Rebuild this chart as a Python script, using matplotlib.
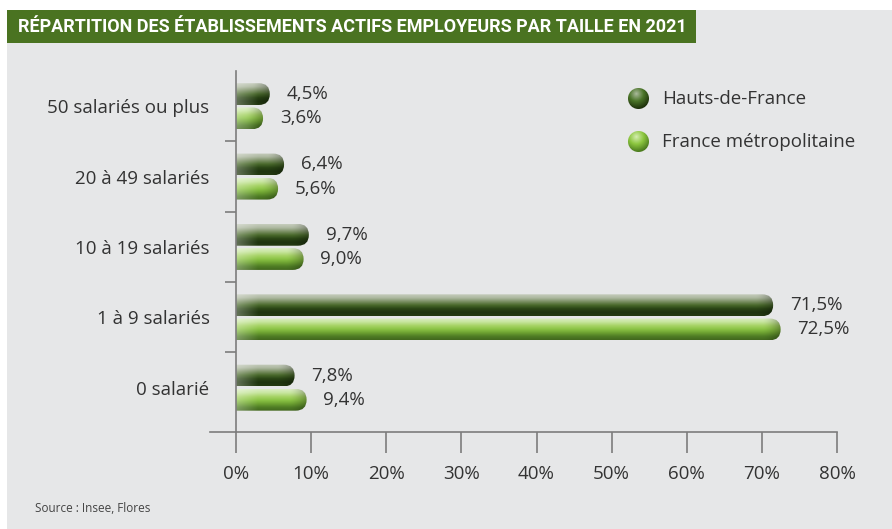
import numpy as np
import matplotlib
matplotlib.use("Agg")
import matplotlib.pyplot as plt
from matplotlib.patches import FancyBboxPatch, Rectangle
from matplotlib.colors import LinearSegmentedColormap

plt.rcParams['font.family'] = ['Open Sans', 'DejaVu Sans']

# data
categories = ["50 salariés ou plus", "20 à 49 salariés", "10 à 19 salariés",
              "1 à 9 salariés", "0 salarié"]
hdf = [4.5, 6.4, 9.7, 71.5, 7.8]
france = [3.6, 5.6, 9.0, 72.5, 9.4]
series_names = ["Hauts-de-France", "France métropolitaine"]
x_ticks = [0, 10, 20, 30, 40, 50, 60, 70, 80]

BG = "#e6e7e8"
TXT = "#333333"
AXC = "#7d7d7d"

hdf_stops = ["#c5ccbc", "#adb8a0", "#7c9065", "#4a6a2c", "#2a4515", "#1f3410", "#243a11"]
fr_stops = ["#dbedc3", "#c8e6a0", "#a8d468", "#8cc446", "#6ea332", "#4f7d25", "#42681e"]

fig = plt.figure(figsize=(8.92, 5.29), dpi=100)
fig.patch.set_facecolor("white")

# gray panel and title bar
fig.patches.append(Rectangle((7 / 892, 0), 1, 1 - 10 / 529, transform=fig.transFigure,
                             facecolor=BG, edgecolor="none", zorder=-2))
fig.patches.append(Rectangle((7 / 892, 1 - 43 / 529), (696 - 7) / 892, 33 / 529,
                             transform=fig.transFigure, facecolor="#4a7321",
                             edgecolor="none", zorder=-1))
fig.text(18 / 892, 1 - 27 / 529,
         "RÉPARTITION DES ÉTABLISSEMENTS ACTIFS EMPLOYEURS PAR TAILLE EN 2021",
         color="white", fontsize=13, fontweight="bold", va="center", ha="left",
         family=["Roboto", "DejaVu Sans"])

ax = fig.add_axes([236 / 892, 1 - 432 / 529, (837 - 236) / 892, (432 - 71) / 529])
ax.set_facecolor("none")
ax.set_zorder(3)

n = len(categories)
y = np.arange(n)
h = 0.31
off = 0.172
bottom_pad = 0.13
bars_h = ax.barh(y - off, hdf, height=h)
bars_f = ax.barh(y + off, france, height=h)

ax.set_xlim(0, 80)
ax.set_ylim(n - 0.5 + bottom_pad, -0.5)

# pixel sizes -> data units
px_x = 80 / (837 - 236)
px_y = (n + bottom_pad) / (432 - 71)
r = (h / 2) / px_y * px_x
asp = (h / 2) / r


def shade_bar(patch, stops):
    x0, y0 = patch.get_x(), patch.get_y()
    w, hh = patch.get_width(), patch.get_height()
    patch.set_visible(False)
    box = FancyBboxPatch((x0 - r, y0), w + r, hh,
                         boxstyle=f"round,pad=0,rounding_size={r}",
                         mutation_aspect=asp, facecolor="none", edgecolor="none")
    ax.add_patch(box)
    cmap = LinearSegmentedColormap.from_list("g", stops)
    ny, nx = 60, 300
    col = cmap(np.linspace(0, 1, ny))[:, :3]
    img = np.repeat(col[:, None, :], nx, axis=1)
    xs = np.linspace(x0, x0 + w, nx)
    # pale haze at left, darker cap at right
    left = np.clip(1 - (xs - x0) / (22 * px_x), 0, 1)[None, :, None]
    img = img + (1 - img) * 0.3 * left
    cap = np.clip((xs - (x0 + w - 1.6 * r)) / (1.6 * r), 0, 1)[None, :, None]
    img = img * (1 - 0.3 * cap ** 1.5)
    im = ax.imshow(img, extent=(x0, x0 + w, y0 + hh, y0), aspect="auto",
                   interpolation="bilinear", zorder=2)
    im.set_clip_path(box)


for p in bars_h:
    shade_bar(p, hdf_stops)
for p in bars_f:
    shade_bar(p, fr_stops)

ax.set_xlim(0, 80)
ax.set_ylim(n - 0.5 + bottom_pad, -0.5)

# value labels
for vals, ys in [(hdf, y - off), (france, y + off)]:
    for v, yy in zip(vals, ys):
        ax.annotate(f"{v:.1f}%".replace(".", ","), (v, yy), xytext=(12, 0),
                    textcoords="offset points", va="center", ha="left",
                    fontsize=13.5, color=TXT)

# axes styling
for s in ["top", "right"]:
    ax.spines[s].set_visible(False)
for s in ["left", "bottom"]:
    ax.spines[s].set_color(AXC)
    ax.spines[s].set_linewidth(1.2)
ax.plot([-26 * px_x, 0], [n - 0.5 + bottom_pad] * 2, color=AXC, lw=1.2,
        clip_on=False)

ax.set_xticks(x_ticks)
ax.set_xticklabels([f"{t}%" for t in x_ticks])
ax.tick_params(axis="x", length=15, width=1.2, color=AXC, pad=9,
               labelsize=13.5, labelcolor=TXT, direction="out")

ax.set_yticks(y)
ax.set_yticklabels(categories)
ax.tick_params(axis="y", which="major", length=0, pad=19, labelsize=13.5,
               labelcolor=TXT)
ax.set_yticks(np.arange(0.5, n - 0.5, 1), minor=True)
ax.tick_params(axis="y", which="minor", length=8, width=1.2, color=AXC,
               direction="out")


# legend with shaded spheres
def sphere(stops, d=21):
    cmap = LinearSegmentedColormap.from_list("s", stops)
    yy, xx = np.mgrid[0:d, 0:d] + 0.5
    c = d / 2
    rr = np.hypot(xx - c, yy - c) / c
    t = np.clip(np.hypot(xx - c * 0.8, yy - c * 0.55) / (1.4 * c), 0, 1)
    rgba = cmap(t)
    rgba[..., 3] = np.clip((1 - rr) * c + 0.5, 0, 1)
    return rgba


sph_h = sphere(["#a9b99a", "#4a7428", "#1f330c"])
sph_f = sphere(["#d4edb0", "#8cc63f", "#4d7d1f"])
for img, cy, name in [(sph_h, 99, series_names[0]), (sph_f, 142, series_names[1])]:
    fig.figimage(img, xo=638 - 10, yo=529 - cy - 10, zorder=5)
    fig.text(662 / 892, 1 - cy / 529, name, fontsize=13.5, color=TXT,
             va="center", ha="left")

fig.text(35 / 892, 1 - 508 / 529, "Source : Insee, Flores", fontsize=8.5,
         color="#444444", va="center", ha="left")

fig.savefig("out.png", dpi=100)
